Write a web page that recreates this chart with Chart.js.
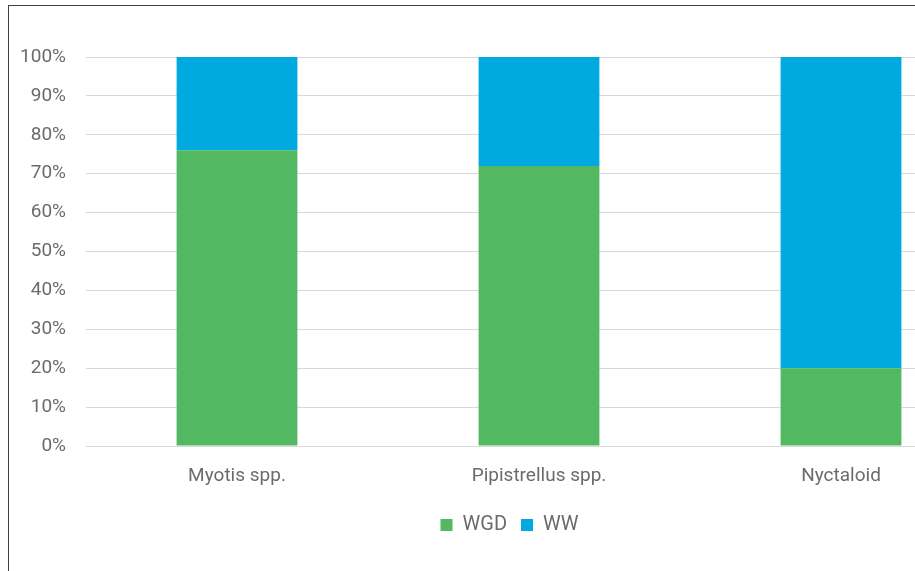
<!DOCTYPE html>
<html>
<head>
<meta charset="utf-8">
<script src="https://cdn.jsdelivr.net/npm/chart.js@4/dist/chart.umd.min.js"></script>
<style>
  html, body { margin: 0; padding: 0; background: #fff; overflow: hidden; width: 915px; height: 571px; }
  .frame {
    position: absolute; left: 8px; top: 5px;
    width: 1020px; height: 620px;
    border-top: 1px solid #404040; border-left: 1px solid #404040;
  }
  .wrap { position: absolute; left: 0; top: 0; width: 1001px; height: 539px; }
</style>
</head>
<body>
<div class="frame">
  <div class="wrap"><canvas id="bats-chart"></canvas></div>
</div>
<script>
// DATA
const categories = ["Myotis spp.", "Pipistrellus spp.", "Nyctaloid"];
const wgdValues = [76, 72, 20];
const wwValues = [24, 28, 80];
const yTicks = [0, 10, 20, 30, 40, 50, 60, 70, 80, 90, 100];

const textColor = "#6b6b6b";
const fontFamily = "Roboto, 'Liberation Sans', sans-serif";

const ctx = document.getElementById("bats-chart").getContext("2d");

const data = {
    labels: categories,
    datasets: [
        { label: "WGD", data: wgdValues, backgroundColor: "#52b861", borderWidth: 0 },
        { label: "WW", data: wwValues, backgroundColor: "#00aae1", borderWidth: 0 },
    ],
};

// nudge the legend a little to the right (the original chart is wider than the view)
const shiftLegend = {
    id: "shiftLegend",
    afterLayout(chart) {
        chart.legend.left += 9;
        chart.legend.right += 9;
    },
};

const config = {
    type: "bar",
    data: data,
    plugins: [shiftLegend],
    options: {
        responsive: true,
        maintainAspectRatio: false,
        animation: false,
        categoryPercentage: 1,
        barPercentage: 0.4,
        layout: { padding: { top: 51, right: 18, left: 0, bottom: 0 } },
        scales: {
            x: {
                stacked: true,
                grid: { display: false },
                border: { display: false },
                ticks: { color: textColor, padding: 11, font: { family: fontFamily, size: 19 } },
                afterFit: (scale) => { scale.height = 55; },
            },
            y: {
                stacked: true,
                min: 0,
                max: 100,
                afterBuildTicks: (scale) => { scale.ticks = yTicks.map((v) => ({ value: v })); },
                grid: { color: "#d9d9d9", lineWidth: 1, drawTicks: false },
                border: { display: false },
                ticks: {
                    color: textColor,
                    padding: 20,
                    font: { family: fontFamily, size: 19 },
                    callback: (v) => v + "%",
                },
                afterFit: (scale) => { scale.width = 77; },
            },
        },
        plugins: {
            legend: {
                position: "bottom",
                labels: {
                    boxWidth: 12,
                    boxHeight: 12,
                    color: textColor,
                    padding: 14,
                    font: { family: fontFamily, size: 20 },
                },
            },
            tooltip: { enabled: false },
        },
    },
};

const batsChart = new Chart(ctx, config);
</script>
</body>
</html>
